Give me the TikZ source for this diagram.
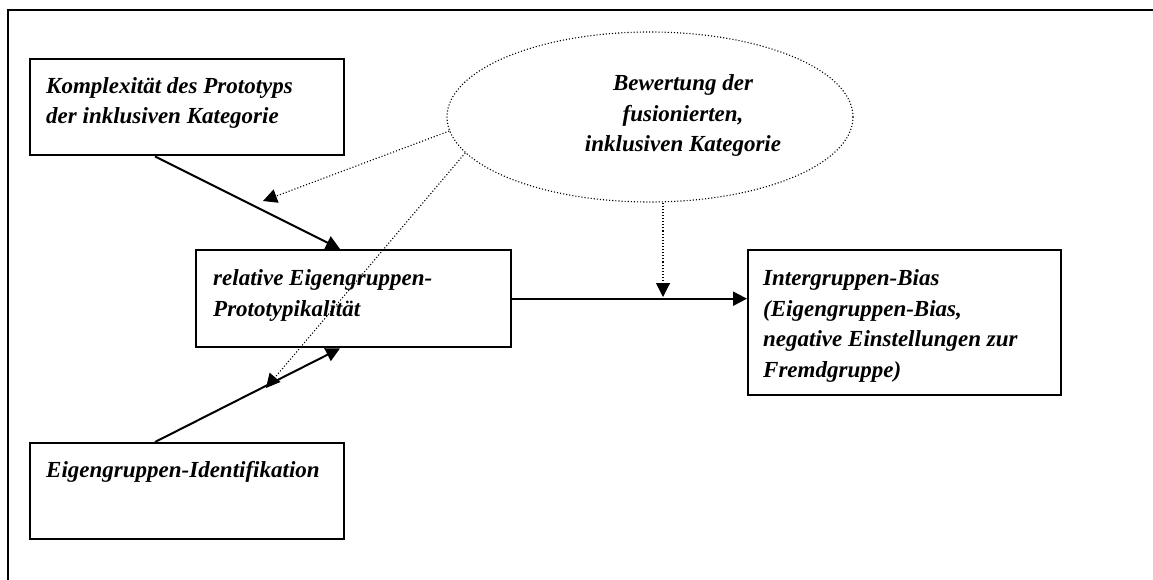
\documentclass[tikz,border=0pt]{standalone}
\usepackage{fontspec}
\setmainfont{Liberation Serif}
\usetikzlibrary{arrows.meta,shapes.geometric,calc}
\begin{document}
\begin{tikzpicture}[x=1pt,y=-1pt,
  box/.style={draw,line width=2.4pt,inner sep=0pt,anchor=north west},
  txt/.style={font=\fontsize{23}{30.5}\selectfont\bfseries\itshape,inner sep=0pt,align=left,anchor=base west},
  arr/.style={line width=2pt,-{Triangle[length=14pt,width=14pt]}},
  darr/.style={line width=1.1pt,dotted,-{Triangle[length=14pt,width=14pt]}}]
\useasboundingbox (0,0) rectangle (1153,580);
% frame
\draw[line width=2.4pt] (8,580) -- (8,10) -- (1153,10);
% boxes
\node[box,minimum width=314,minimum height=96] (b1) at (29,58) {};
\node[box,minimum width=315,minimum height=97] (b2) at (195,249) {};
\node[box,minimum width=314,minimum height=96] (b3) at (29,442) {};
\node[box,minimum width=313,minimum height=145] (b4) at (747,249) {};
\node[draw,dotted,line width=1.1pt,ellipse,minimum width=406,minimum height=170] (ell) at (650,117) {};
% texts (anchored at the baseline of the last line)
\node[txt] (t1) at (46,124) {Komplexität des Prototyps\\der inklusiven Kategorie};
\node[txt] (t2) at (213,316) {relative Eigengruppen-\\Prototypikalität};
\node[txt] (t3) at (46,477) {Eigengruppen-Identifikation};
\node[txt] (t4) at (763,377) {Intergruppen-Bias\\(Eigengruppen-Bias,\\negative Einstellungen zur\\Fremdgruppe)};
\node[txt,align=center,anchor=base] (t5) at (683,152) {Bewertung der\\fusionierten,\\inklusiven Kategorie};
% coordinates
\coordinate (c1) at (263,201);
\coordinate (c2) at (266,388);
\coordinate (c3) at (663,297);
% connectors
\draw[arr] ($(b1.south west)+(126,0)$) -- ($(b2.north west)+(145,0)$);
\draw[arr] ($(b3.north west)+(126,0)$) -- ($(b2.south west)+(145,0)$);
\draw[arr] (b2.east) -- (b2.east -| b4.west);
\draw[darr] (ell.184) -- (c1);
\draw[darr] (ell.191) -- (c2);
\draw[darr] (ell.south -| c3) -- (c3);
\end{tikzpicture}
\end{document}
